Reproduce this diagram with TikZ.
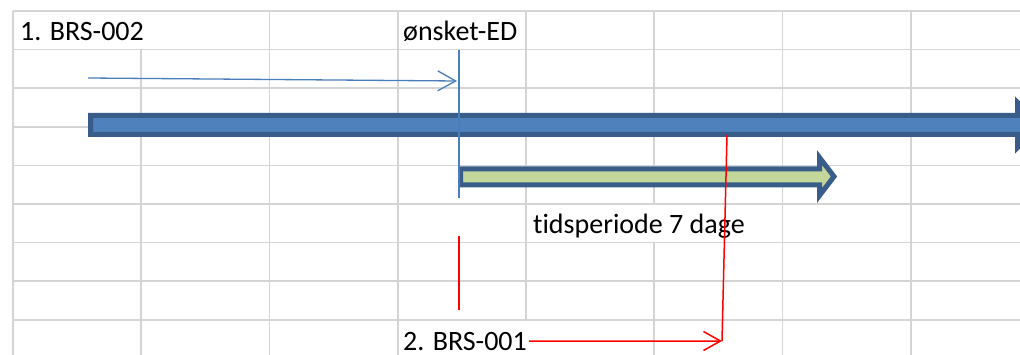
\documentclass[tikz,border=0pt]{standalone}
\usepackage{fontspec}
\setmainfont{Carlito}[Ligatures=NoCommon]
\usetikzlibrary{arrows.meta}
\definecolor{gridc}{HTML}{D4D4D4}
\definecolor{xblue}{HTML}{4A7EBB}
\definecolor{xfill}{HTML}{4F81BD}
\definecolor{xborder}{HTML}{385D8A}
\definecolor{xgreen}{HTML}{C3D69B}
\definecolor{xred}{HTML}{FF0000}
\tikzset{
  gridline/.style={draw=gridc, line width=1.7pt},
  lbl/.style={inner sep=0pt, font=\fontsize{28}{34}\selectfont, text=black},
  blueline/.style={draw=xblue, line width=1.3pt},
  redline/.style={draw=xred, line width=1.5pt},
  blockarrow/.style={draw=xborder, line width=5pt, line join=miter, miter limit=10},
}
\begin{document}
\begin{tikzpicture}[x=1pt,y=-1pt]
\useasboundingbox (0,0) rectangle (1020,355);
\clip (0,0) rectangle (1020,355);
\fill[white] (0,0) rectangle (1020,355);
% horizontal grid lines
\foreach \yy in {11,49.6,88.2,126.8,165.4,204,242.6,281.2,319.8}
  \draw[gridline] (13,\yy) -- (1020,\yy);
% vertical grid lines (with gaps where text overflows)
\draw[gridline] (13,11) -- (13,355);
\draw[gridline] (141.25,49.6) -- (141.25,355);
\draw[gridline] (269.5,11) -- (269.5,355);
\draw[gridline] (397.75,11) -- (397.75,355);
\draw[gridline] (526,11) -- (526,319.8);
\draw[gridline] (654.25,11) -- (654.25,204) (654.25,242.6) -- (654.25,355);
\draw[gridline] (782.5,11) -- (782.5,355);
\draw[gridline] (910.75,11) -- (910.75,355);
% big blue block arrow
\draw[blockarrow, fill=xfill] (90.5,115.5) -- (1017.5,115.5) -- (1017.5,102.5) -- (1040,125) -- (1017.5,147.5) -- (1017.5,134.5) -- (90.5,134.5) -- cycle;
% green block arrow
\draw[blockarrow, fill=xgreen] (460.5,169) -- (819.5,169) -- (819.5,157.5) -- (834,176.5) -- (819.5,195.5) -- (819.5,185) -- (460.5,185) -- cycle;
% texts
\node[lbl, anchor=base west] (t1) at (20,41) {1. BRS-002};
\node[lbl, anchor=base west] (t2) at (403,41) {ønsket-ED};
\node[lbl, anchor=base west] (t3) at (533,234) {tidsperiode 7 dage};
\node[lbl, anchor=base west] (t4) at (403,350) {2. BRS-001};
% coordinates for connectors
\coordinate (bs) at (88,78);
\coordinate (be) at (457,81);
\coordinate (vt) at (459,50);
\coordinate (vb) at (459,198);
\coordinate (rt) at (459,236);
\coordinate (rb) at (459,310);
\coordinate (rc) at (722,341);
\coordinate (rtop) at (727,135);
% blue connectors
\draw[blueline, -{Straight Barb[length=18pt,width=20pt,line width=1.3pt]}] (bs) -- (be);
\draw[blueline] (vt) -- (vb);
% red connectors
\draw[redline] (rt) -- (rb);
\draw[redline, -{Straight Barb[length=17pt,width=19pt,line width=1.5pt]}] ([xshift=2pt]t4.east) -- (rc);
\draw[redline] (rc) -- (rtop);
\end{tikzpicture}
\end{document}
